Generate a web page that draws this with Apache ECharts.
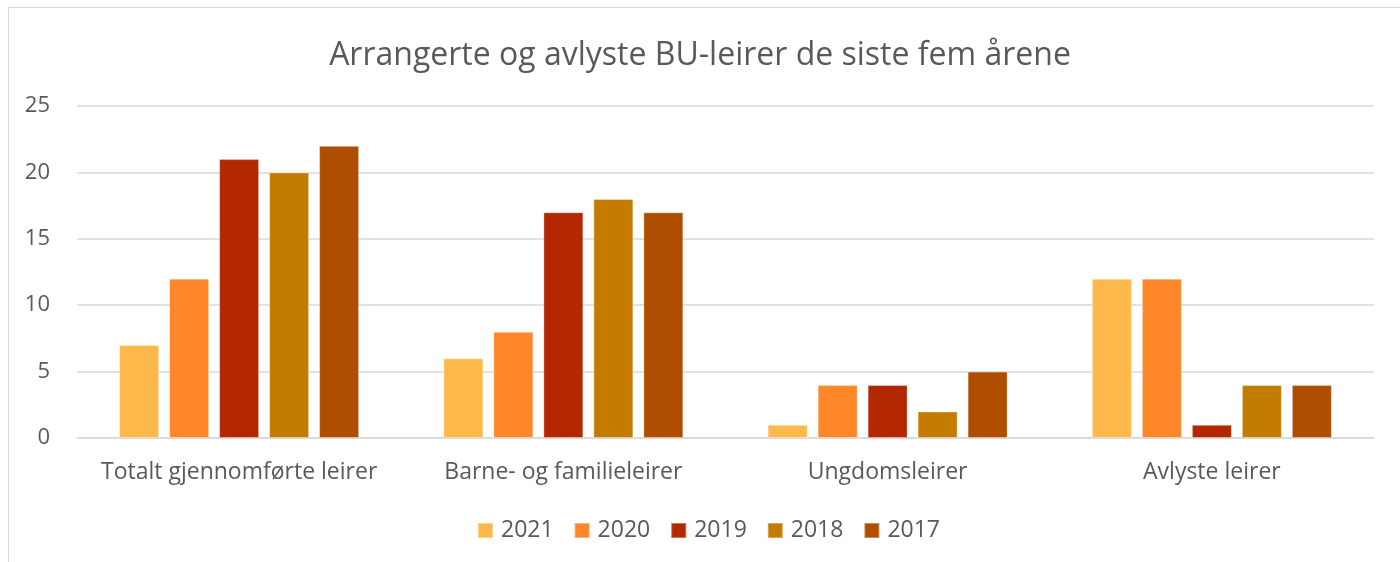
<!DOCTYPE html>
<html>
<head>
<meta charset="utf-8">
<script src="https://cdn.jsdelivr.net/npm/echarts@6/dist/echarts.min.js"></script>
<style>
  html, body { margin: 0; padding: 0; background: #fff; }
  #chart { width: 1400px; height: 562px; }
</style>
</head>
<body>
<div id="chart"></div>
<script>
var categories = ["Totalt gjennomførte leirer", "Barne- og familieleirer", "Ungdomsleirer", "Avlyste leirer"];
var years = ["2021", "2020", "2019", "2018", "2017"];
var v2021 = [7, 6, 1, 12];
var v2020 = [12, 8, 4, 12];
var v2019 = [21, 17, 4, 1];
var v2018 = [20, 18, 2, 4];
var v2017 = [22, 17, 5, 4];
var yTicks = [0, 5, 10, 15, 20, 25];

var colors = ["#FFB94A", "#FF8629", "#B32800", "#C47C00", "#B04E00"];
var values = [v2021, v2020, v2019, v2018, v2017];
var textColor = "#595959";
var fontFam = "'Open Sans', 'Noto Sans', sans-serif";

var myChart = echarts.init(document.getElementById("chart"));

var series = [];
for (var i = 0; i < years.length; i++) {
  series.push({
    name: years[i],
    type: "bar",
    data: values[i],
    barCategoryGap: "26%",
    barGap: "25%",
    itemStyle: {
      color: colors[i],
      borderColor: "rgba(255,255,255,0.35)",
      borderWidth: 1
    }
  });
}

var option = {
  backgroundColor: "#fff",
  animation: false,
  color: colors,
  // ramme rundt diagrammet
  graphic: [{
    type: "rect",
    shape: { x: 8.5, y: 7.5, width: 1500, height: 700 },
    style: { fill: "none", stroke: "#D9D9D9", lineWidth: 1 },
    silent: true
  }],
  title: {
    text: "Arrangerte og avlyste BU-leirer de siste fem årene",
    left: "center",
    top: 35,
    textStyle: { color: textColor, fontSize: 32, fontWeight: "normal", fontFamily: fontFam }
  },
  legend: {
    data: years,
    bottom: 15,
    left: 472,
    itemWidth: 15,
    itemHeight: 15,
    itemGap: 20,
    icon: "rect",
    textStyle: { color: textColor, fontSize: 23, fontFamily: fontFam, padding: [0, 0, 0, 3] }
  },
  grid: { left: 77, right: 26, top: 106, bottom: 124 },
  xAxis: {
    type: "category",
    data: categories,
    axisTick: { show: false },
    axisLine: { lineStyle: { color: "#D9D9D9", width: 1.5 } },
    axisLabel: { color: textColor, fontSize: 23, margin: 23, interval: 0, fontFamily: fontFam }
  },
  yAxis: {
    type: "value",
    min: yTicks[0],
    max: yTicks[yTicks.length - 1],
    interval: 5,
    axisLine: { show: false },
    axisTick: { show: false },
    splitLine: { lineStyle: { color: "#D9D9D9", width: 1.5 } },
    axisLabel: { color: textColor, fontSize: 22, margin: 27, fontFamily: fontFam }
  },
  series: series
};

myChart.setOption(option);
</script>
</body>
</html>
